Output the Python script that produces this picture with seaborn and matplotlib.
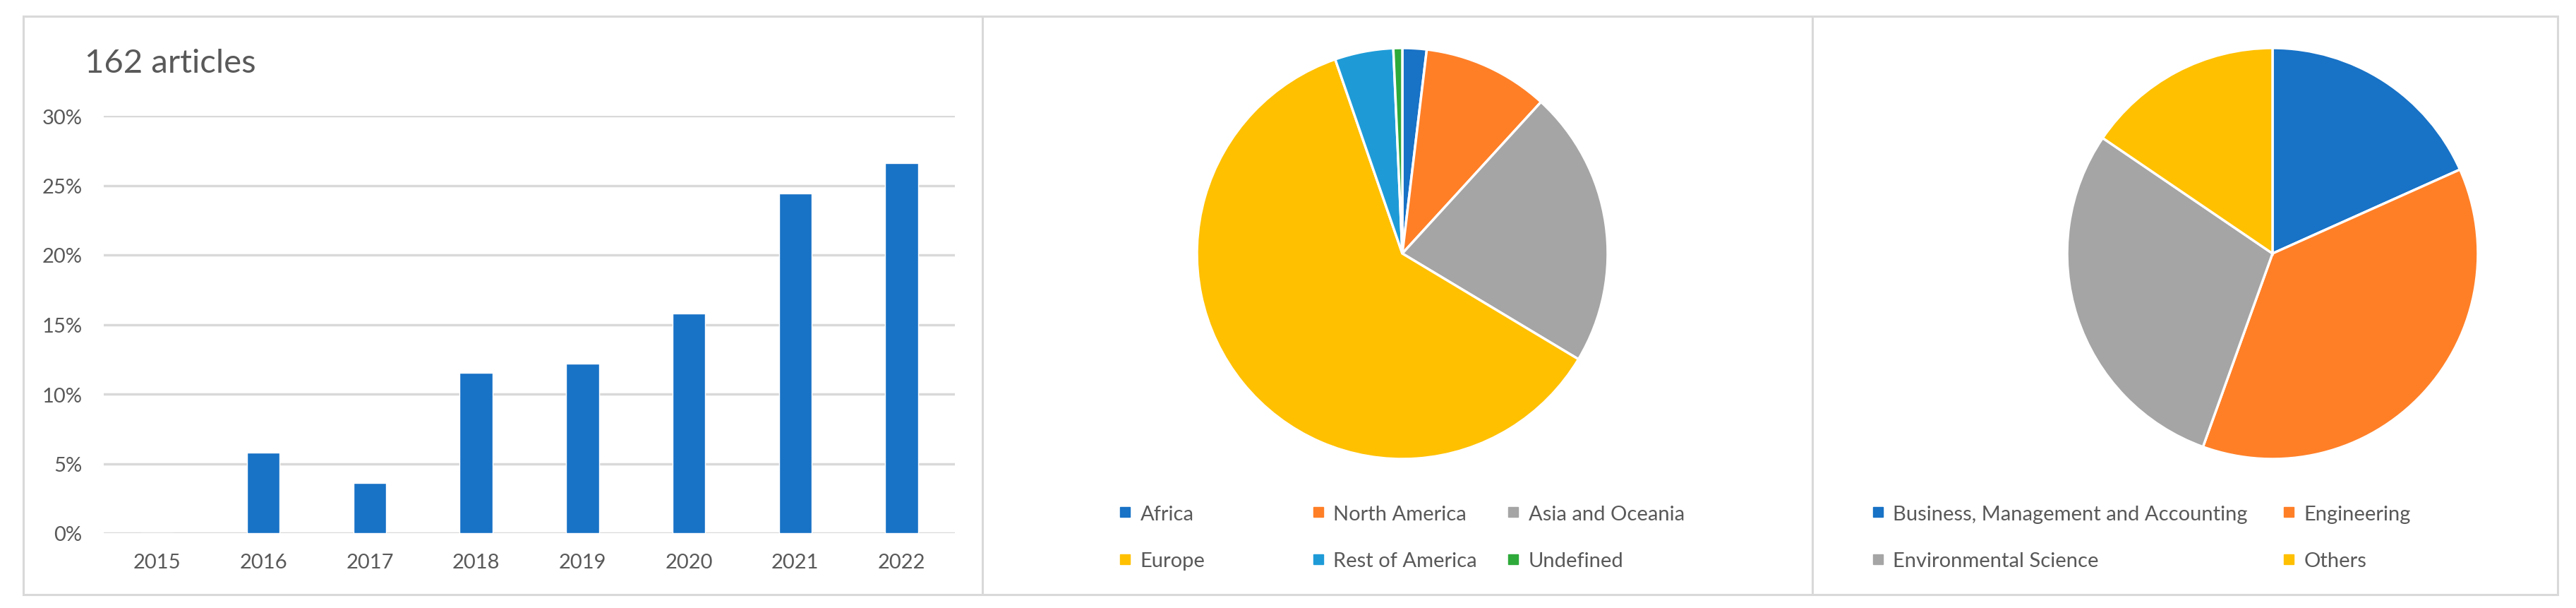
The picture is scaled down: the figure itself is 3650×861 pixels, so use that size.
import matplotlib
matplotlib.use("Agg")
import matplotlib.pyplot as plt
from matplotlib.lines import Line2D
from matplotlib.patches import Rectangle
from matplotlib.ticker import FuncFormatter
import seaborn as sns

# data
years = ["2015", "2016", "2017", "2018", "2019", "2020", "2021", "2022"]
share_pct = [0.0, 5.8, 3.6, 11.5, 12.2, 15.8, 24.4, 26.6]

regions = ["Africa", "North America", "Asia and Oceania", "Europe", "Rest of America", "Undefined"]
region_pct = [1.9, 9.9, 21.8, 61.1, 4.6, 0.7]

areas = ["Business, Management and Accounting", "Engineering", "Environmental Science", "Others"]
area_pct = [18.3, 37.2, 29.0, 15.5]

BLUE = "#1872C6"
region_colors = [BLUE, "#FF7F27", "#A5A5A5", "#FFC000", "#1E9BD7", "#2EAA3A"]
area_colors = [BLUE, "#FF7F27", "#A5A5A5", "#FFC000"]
TXT = "#595959"
LINE = "#D9D9D9"

sns.set_theme(style="white")
plt.rcParams["font.family"] = ["Lato", "DejaVu Sans"]

W, H = 3650, 862
fig = plt.figure(figsize=(W / 100, H / 100), dpi=100)
fig.patch.set_facecolor("white")


def box(x0, y0, x1, y1):
    # pixel box (top-left origin) -> figure fraction rect
    return [x0 / W, 1 - y1 / H, (x1 - x0) / W, (y1 - y0) / H]


# outer frame and dividers
fig.patches.append(Rectangle((33 / W, 1 - 843 / H), (3624 - 33) / W, (843 - 24) / H,
                             transform=fig.transFigure, fill=False, edgecolor=LINE, lw=2.2))
for xd in [1392, 2568]:
    fig.lines.append(Line2D([xd / W, xd / W], [1 - 843 / H, 1 - 24 / H],
                            transform=fig.transFigure, color=LINE, lw=2.2))

# 1. bar chart
ax = fig.add_axes(box(147, 165, 1353, 756))
sns.barplot(x=years, y=share_pct, color=BLUE, width=0.31, saturation=1, ax=ax)
ax.set_ylim(0, 30)
ax.set_yticks([0, 5, 10, 15, 20, 25, 30])
ax.yaxis.set_major_formatter(FuncFormatter(lambda v, p: f"{v:.0f}%"))
ax.grid(axis="y", color=LINE, lw=2.5)
ax.set_axisbelow(True)
for s in ax.spines.values():
    s.set_visible(False)
ax.tick_params(axis="both", length=0, labelsize=21, labelcolor=TXT)
ax.tick_params(axis="y", pad=22)
ax.tick_params(axis="x", pad=20)
ax.set_xlabel("")
ax.set_ylabel("")
fig.text(120 / W, 1 - 90 / H, "162 articles", fontsize=34, color=TXT, va="center", ha="left")


def pie_legend(labels, colors, columns, x_centers):
    # one legend per column so columns sit where the reference has them
    for col, xc in zip(columns, x_centers):
        handles = [Line2D([], [], marker="s", ls="none", markersize=10,
                          markerfacecolor=colors[i], markeredgecolor=colors[i]) for i in col]
        fig.legend(handles, [labels[i] for i in col], loc="center left",
                   bbox_to_anchor=((xc - 10) / W, 1 - 762 / H), frameon=False,
                   fontsize=21, labelcolor=TXT, handlelength=0.7, handletextpad=0.38,
                   borderpad=0, borderaxespad=0, labelspacing=1.4)


# 2. regions pie
r = 291
ax2 = fig.add_axes(box(1987 - r, 360 - r, 1987 + r, 360 + r))
ax2.pie(region_pct, colors=region_colors, startangle=90, counterclock=False,
        wedgeprops=dict(edgecolor="white", linewidth=2.5))
ax2.set_xlim(-1, 1)
ax2.set_ylim(-1, 1)
pie_legend(regions, region_colors, [[0, 3], [1, 4], [2, 5]], [1594, 1868, 2144])

# 3. subject areas pie
ax3 = fig.add_axes(box(3220 - r, 360 - r, 3220 + r, 360 + r))
ax3.pie(area_pct, colors=area_colors, startangle=90, counterclock=False,
        wedgeprops=dict(edgecolor="white", linewidth=2.5))
ax3.set_xlim(-1, 1)
ax3.set_ylim(-1, 1)
pie_legend(areas, area_colors, [[0, 2], [1, 3]], [2661, 3243])

fig.savefig("out.png", dpi=100, facecolor="white")
